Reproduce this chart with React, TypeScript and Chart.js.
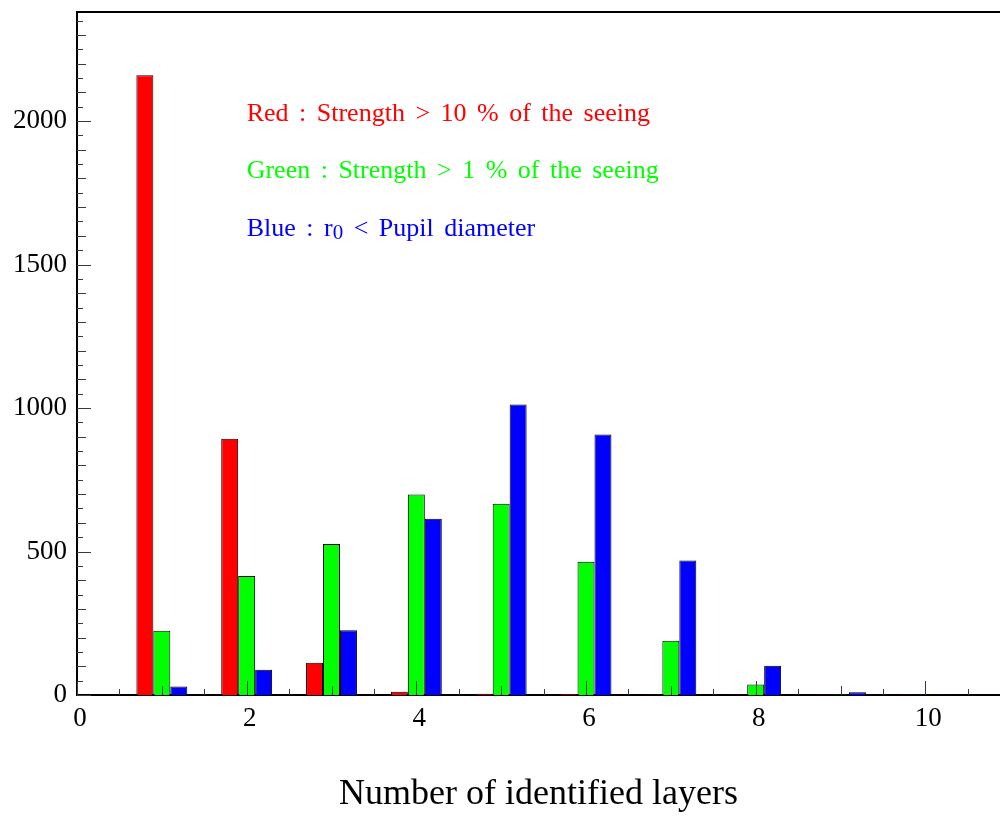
import React, { useEffect, useRef } from "react";
import { Chart, registerables } from "chart.js";

Chart.register(...registerables);

// ---- data ----
const layers = [1, 2, 3, 4, 5, 6, 7, 8, 9, 10];
const redCounts = [2160, 893, 112, 11, 4, 3, 2, 2, 2, 2];
const greenCounts = [224, 415, 526, 699, 666, 464, 189, 37, 2, 1];
const blueCounts = [30, 88, 226, 614, 1012, 908, 469, 102, 10, 2];

const xTickLabels = [0, 2, 4, 6, 8, 10];
const yTickLabels = [0, 500, 1000, 1500, 2000];

const xTitle = "Number of identified layers";
const noteRed = "Red : Strength > 10 % of the seeing";
const noteGreen = "Green : Strength > 1 % of the seeing";
const noteBluePrefix = "Blue : r";
const noteBlueSub = "0";
const noteBlueSuffix = " < Pupil diameter";
const noteAnchorX = 2;
const noteAnchorY = [2000, 1800, 1600];

const FONT = "'Liberation Serif', 'Times New Roman', serif";

const decorPlugin = {
  id: "decor",
  afterDatasetsDraw(chart: any) {
    const { ctx, chartArea, scales } = chart;
    const xs = scales.x;
    const ys = scales.y;
    ctx.save();
    ctx.strokeStyle = "#3a3a3a";
    ctx.lineWidth = 1;
    // x-axis tick marks (inside)
    for (let i = 0; i * 0.5 <= xs.max; i++) {
      const v = i * 0.5;
      const px = Math.round(xs.getPixelForValue(v)) + 0.5;
      const len = i % 4 === 0 ? 14 : i % 2 === 0 ? 9 : 6;
      ctx.beginPath();
      ctx.moveTo(px, chartArea.bottom);
      ctx.lineTo(px, chartArea.bottom - len);
      ctx.stroke();
    }
    // y-axis tick marks (inside)
    for (let v = 0; v <= ys.max; v += 50) {
      const py = Math.round(ys.getPixelForValue(v)) + 0.5;
      const len = v % 500 === 0 ? 14 : v % 100 === 0 ? 9 : 6;
      ctx.beginPath();
      ctx.moveTo(chartArea.left, py);
      ctx.lineTo(chartArea.left + len, py);
      ctx.stroke();
    }
    // top frame line
    ctx.strokeStyle = "#000";
    ctx.lineWidth = 2;
    ctx.beginPath();
    ctx.moveTo(chartArea.left - 1, chartArea.top);
    ctx.lineTo(chartArea.right, chartArea.top);
    ctx.stroke();

    // annotation text
    const tx = xs.getPixelForValue(noteAnchorX);
    ctx.textBaseline = "alphabetic";
    ctx.textAlign = "left";
    try {
      (ctx as any).wordSpacing = "4px";
    } catch (e) {}
    ctx.font = `26px ${FONT}`;
    ctx.fillStyle = "#ff0000";
    ctx.fillText(noteRed, tx, ys.getPixelForValue(noteAnchorY[0]));
    ctx.fillStyle = "#00ff00";
    ctx.fillText(noteGreen, tx, ys.getPixelForValue(noteAnchorY[1]));
    ctx.fillStyle = "#0000ff";
    const by = ys.getPixelForValue(noteAnchorY[2]);
    ctx.fillText(noteBluePrefix, tx, by);
    let cx = tx + ctx.measureText(noteBluePrefix).width;
    ctx.font = `21px ${FONT}`;
    ctx.fillText(noteBlueSub, cx, by + 3);
    cx += ctx.measureText(noteBlueSub).width;
    ctx.font = `26px ${FONT}`;
    ctx.fillText(noteBlueSuffix, cx, by);
    ctx.restore();
  },
};

export default function App() {
  const canvasRef = useRef<HTMLCanvasElement | null>(null);

  useEffect(() => {
    const canvas = canvasRef.current;
    if (!canvas) return;
    const mk = (vals: number[]) => layers.map((l, i) => ({ x: l, y: vals[i] }));
    const chart = new Chart(canvas, {
      type: "bar",
      data: {
        datasets: [
          { label: "Red", data: mk(redCounts), backgroundColor: "#ff0000", borderColor: "#000", borderWidth: 1 },
          { label: "Green", data: mk(greenCounts), backgroundColor: "#00ff00", borderColor: "#000", borderWidth: 1 },
          { label: "Blue", data: mk(blueCounts), backgroundColor: "#0000ff", borderColor: "#000", borderWidth: 1 },
        ] as any,
      },
      options: {
        animation: false,
        responsive: false,
        maintainAspectRatio: false,
        datasets: { bar: { categoryPercentage: 0.6, barPercentage: 1.0 } } as any,
        layout: { padding: { top: 12, right: 0, left: 0, bottom: 0 } },
        plugins: { legend: { display: false }, tooltip: { enabled: false } },
        scales: {
          x: {
            type: "linear",
            min: 0,
            max: 10.88,
            offset: false,
            grid: { display: false, drawTicks: false },
            border: { display: true, color: "#000", width: 2 },
            afterBuildTicks: (s: any) => {
              s.ticks = xTickLabels.map((v) => ({ value: v }));
            },
            ticks: {
              padding: 8,
              labelOffset: 3,
              maxRotation: 0,
              autoSkip: false,
              color: "#000",
              font: { family: FONT, size: 27 },
              callback: (v: any) => String(v),
            },
            title: {
              display: true,
              text: xTitle,
              color: "#000",
              font: { family: FONT, size: 36 },
              padding: { top: 0, bottom: 2 },
            },
            afterFit: (s: any) => {
              s.height = 123;
              s.paddingLeft = 0;
              s.paddingRight = 0;
            },
          },
          y: {
            min: 0,
            max: 2380,
            grid: { display: false, drawTicks: false },
            border: { display: true, color: "#000", width: 2 },
            afterBuildTicks: (s: any) => {
              s.ticks = yTickLabels.map((v) => ({ value: v }));
            },
            ticks: {
              autoSkip: false,
              padding: 10,
              color: "#000",
              font: { family: FONT, size: 27 },
              callback: (v: any) => String(v),
            },
            afterFit: (s: any) => {
              s.width = 77;
              s.paddingTop = 0;
              s.paddingBottom = 0;
            },
          },
        } as any,
      },
      plugins: [decorPlugin],
    });
    return () => chart.destroy();
  }, []);

  return (
    <div style={{ position: "absolute", left: 0, top: 0, width: 1000, height: 818, background: "#fff" }}>
      <canvas ref={canvasRef} width={1000} height={818} style={{ display: "block" }} />
    </div>
  );
}
